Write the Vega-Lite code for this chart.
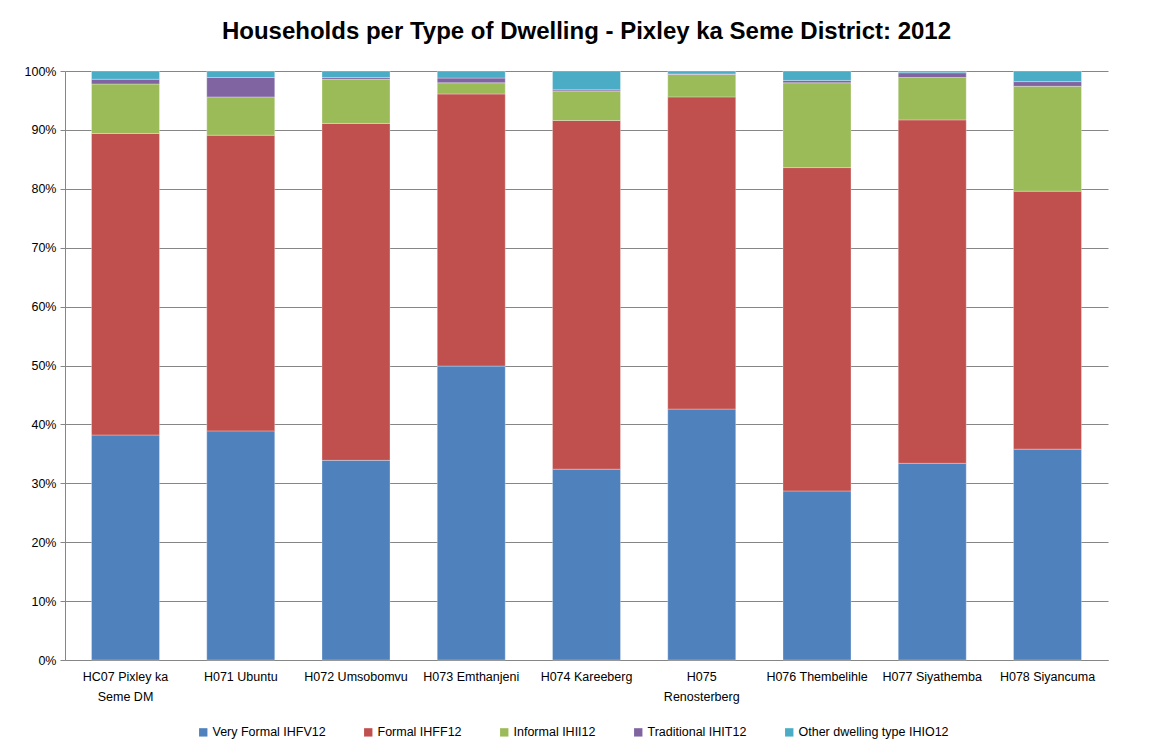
{
  "$schema": "https://vega.github.io/schema/vega-lite/v6.json",
  "autosize": "none",
  "width": 1043,
  "height": 589,
  "padding": {"left": 65, "top": 71, "right": 43, "bottom": 91},
  "background": "white",
  "title": {"text": "Households per Type of Dwelling - Pixley ka Seme District: 2012", "font": "Liberation Sans", "fontSize": 24, "fontWeight": "bold", "color": "#000000", "offset": 21, "anchor": "middle"},
  "data": {"values": [
    {"region": "HC07 Pixley ka Seme DM", "type": "Very Formal IHFV12", "pct": 38.2},
    {"region": "HC07 Pixley ka Seme DM", "type": "Formal IHFF12", "pct": 51.2},
    {"region": "HC07 Pixley ka Seme DM", "type": "Informal IHII12", "pct": 8.4},
    {"region": "HC07 Pixley ka Seme DM", "type": "Traditional IHIT12", "pct": 0.8},
    {"region": "HC07 Pixley ka Seme DM", "type": "Other dwelling type IHIO12", "pct": 1.4},
    {"region": "H071 Ubuntu", "type": "Very Formal IHFV12", "pct": 38.9},
    {"region": "H071 Ubuntu", "type": "Formal IHFF12", "pct": 50.2},
    {"region": "H071 Ubuntu", "type": "Informal IHII12", "pct": 6.5},
    {"region": "H071 Ubuntu", "type": "Traditional IHIT12", "pct": 3.3},
    {"region": "H071 Ubuntu", "type": "Other dwelling type IHIO12", "pct": 1.1},
    {"region": "H072 Umsobomvu", "type": "Very Formal IHFV12", "pct": 33.9},
    {"region": "H072 Umsobomvu", "type": "Formal IHFF12", "pct": 57.2},
    {"region": "H072 Umsobomvu", "type": "Informal IHII12", "pct": 7.5},
    {"region": "H072 Umsobomvu", "type": "Traditional IHIT12", "pct": 0.3},
    {"region": "H072 Umsobomvu", "type": "Other dwelling type IHIO12", "pct": 1.1},
    {"region": "H073 Emthanjeni", "type": "Very Formal IHFV12", "pct": 49.9},
    {"region": "H073 Emthanjeni", "type": "Formal IHFF12", "pct": 46.2},
    {"region": "H073 Emthanjeni", "type": "Informal IHII12", "pct": 1.9},
    {"region": "H073 Emthanjeni", "type": "Traditional IHIT12", "pct": 0.8},
    {"region": "H073 Emthanjeni", "type": "Other dwelling type IHIO12", "pct": 1.2},
    {"region": "H074 Kareeberg", "type": "Very Formal IHFV12", "pct": 32.4},
    {"region": "H074 Kareeberg", "type": "Formal IHFF12", "pct": 59.2},
    {"region": "H074 Kareeberg", "type": "Informal IHII12", "pct": 5.0},
    {"region": "H074 Kareeberg", "type": "Traditional IHIT12", "pct": 0.2},
    {"region": "H074 Kareeberg", "type": "Other dwelling type IHIO12", "pct": 3.2},
    {"region": "H075 Renosterberg", "type": "Very Formal IHFV12", "pct": 42.6},
    {"region": "H075 Renosterberg", "type": "Formal IHFF12", "pct": 53.0},
    {"region": "H075 Renosterberg", "type": "Informal IHII12", "pct": 3.8},
    {"region": "H075 Renosterberg", "type": "Traditional IHIT12", "pct": 0.1},
    {"region": "H075 Renosterberg", "type": "Other dwelling type IHIO12", "pct": 0.5},
    {"region": "H076 Thembelihle", "type": "Very Formal IHFV12", "pct": 28.7},
    {"region": "H076 Thembelihle", "type": "Formal IHFF12", "pct": 54.9},
    {"region": "H076 Thembelihle", "type": "Informal IHII12", "pct": 14.4},
    {"region": "H076 Thembelihle", "type": "Traditional IHIT12", "pct": 0.4},
    {"region": "H076 Thembelihle", "type": "Other dwelling type IHIO12", "pct": 1.6},
    {"region": "H077 Siyathemba", "type": "Very Formal IHFV12", "pct": 33.4},
    {"region": "H077 Siyathemba", "type": "Formal IHFF12", "pct": 58.3},
    {"region": "H077 Siyathemba", "type": "Informal IHII12", "pct": 7.2},
    {"region": "H077 Siyathemba", "type": "Traditional IHIT12", "pct": 0.8},
    {"region": "H077 Siyathemba", "type": "Other dwelling type IHIO12", "pct": 0.3},
    {"region": "H078 Siyancuma", "type": "Very Formal IHFV12", "pct": 35.8},
    {"region": "H078 Siyancuma", "type": "Formal IHFF12", "pct": 43.8},
    {"region": "H078 Siyancuma", "type": "Informal IHII12", "pct": 17.8},
    {"region": "H078 Siyancuma", "type": "Traditional IHIT12", "pct": 0.8},
    {"region": "H078 Siyancuma", "type": "Other dwelling type IHIO12", "pct": 1.8}
  ]},
  "transform": [
    {"calculate": "indexof(['Very Formal IHFV12', 'Formal IHFF12', 'Informal IHII12', 'Traditional IHIT12', 'Other dwelling type IHIO12'], datum.type)", "as": "typeOrder"}
  ],
  "mark": {"type": "bar", "stroke": "white", "strokeWidth": 0.5, "strokeOpacity": 0.6},
  "encoding": {
    "x": {
      "field": "region", "type": "nominal", "sort": null,
      "scale": {"paddingInner": 0.41, "paddingOuter": 0.23},
      "axis": {
        "title": null, "labelAngle": 0, "labelFont": "Liberation Sans", "labelFontSize": 12.5, "labelColor": "#000000",
        "domainColor": "#868686", "tickColor": "#868686", "ticks": false, "labelPadding": 10, "labelLineHeight": 20,
        "labelExpr": "datum.label == 'HC07 Pixley ka Seme DM' ? ['HC07 Pixley ka', 'Seme DM'] : datum.label == 'H075 Renosterberg' ? ['H075', 'Renosterberg'] : datum.label"
      }
    },
    "y": {
      "field": "pct", "type": "quantitative", "stack": "normalize",
      "scale": {"domain": [0, 1], "nice": false},
      "axis": {
        "title": null, "format": ".0%", "values": [0, 0.1, 0.2, 0.3, 0.4, 0.5, 0.6, 0.7, 0.8, 0.9, 1.0],
        "labelFont": "Liberation Sans", "labelFontSize": 12.5, "labelColor": "#000000",
        "grid": true, "gridColor": "#868686", "gridWidth": 1,
        "domainColor": "#868686", "tickColor": "#868686", "tickSize": 5, "labelPadding": 4
      }
    },
    "order": {"field": "typeOrder", "type": "quantitative", "sort": "ascending"},
    "color": {
      "field": "type", "type": "nominal",
      "scale": {
        "domain": ["Very Formal IHFV12", "Formal IHFF12", "Informal IHII12", "Traditional IHIT12", "Other dwelling type IHIO12"],
        "range": ["#4F81BD", "#C0504D", "#9BBB59", "#8064A2", "#4BACC6"]
      },
      "legend": {
        "title": null, "orient": "none", "legendX": 132, "legendY": 655, "direction": "horizontal", "symbolType": "square", "symbolSize": 70,
        "symbolStrokeWidth": 0, "labelFont": "Liberation Sans", "labelFontSize": 12.5, "labelColor": "#000000",
        "columnPadding": 36, "labelOffset": 3
      }
    }
  },
  "config": {"view": {"stroke": null}}
}
